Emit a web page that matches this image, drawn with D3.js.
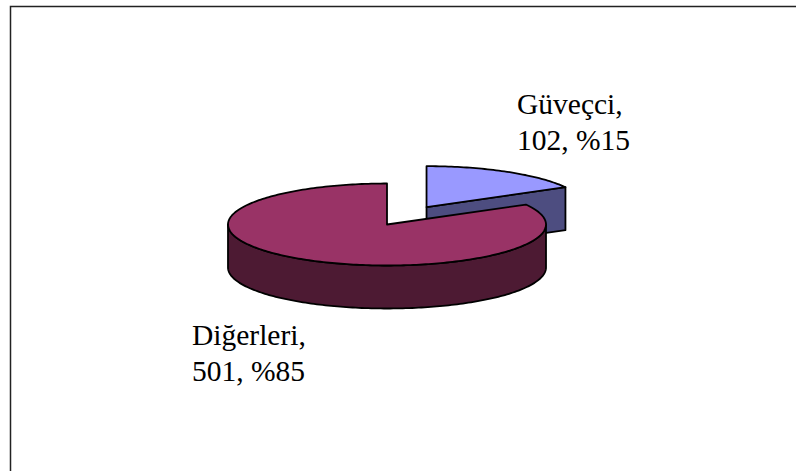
<!DOCTYPE html>
<html>
<head>
<meta charset="utf-8">
<script src="https://cdn.jsdelivr.net/npm/d3@7"></script>
<style>
  body { margin: 0; background: #fff; }
  svg text { font-family: "Liberation Serif", "Times New Roman", serif; font-size: 29.5px; fill: #000; }
</style>
</head>
<body>
<svg width="796" height="471"></svg>
<script>
// chart data
const categories = ["Güveçci", "Diğerleri"];
const values = [102, 501];
const percentLabels = ["%15", "%85"];
const topColors = ["#9999ff", "#993366"];
const sideColors = ["#4d4d80", "#4d1a33"];

const svg = d3.select("svg");

// frame (only top & left edges fall inside the window)
svg.append("rect")
    .attr("x", 10.5)
    .attr("y", 6.5)
    .attr("width", 800)
    .attr("height", 480)
    .attr("fill", "none")
    .attr("stroke", "#222")
    .attr("stroke-width", 1.5);

// 3d pie geometry
const cx = 387, cy = 224.5;
const rx = 159, ry = 41;
const depth = 43;
const explode = 78;

const pie = d3.pie().sort(null).value(d => d.value);
const arcs = pie(categories.map((c, i) => ({ name: c, value: values[i], i: i })));

// angle: 0 at 12 o'clock, clockwise
function pt(ox, oy, a, dz) {
    return [ox + rx * Math.sin(a), oy - ry * Math.cos(a) + (dz || 0)];
}

function arcPoints(ox, oy, a0, a1, dz) {
    const n = Math.max(2, Math.ceil(Math.abs(a1 - a0) / 0.02));
    return d3.range(n + 1).map(k => pt(ox, oy, a0 + (a1 - a0) * k / n, dz));
}

const line = d3.line();

// offset for exploded slice (first slice only)
arcs.forEach(d => {
    const mid = (d.startAngle + d.endAngle) / 2;
    const e = d.data.i === 0 ? explode : 0;
    d.ox = cx + e * Math.sin(mid);
    d.oy = cy - e * Math.cos(mid) * (ry / rx);
});

function drawSlice(d) {
    const g = svg.append("g");
    const i = d.data.i;

    // radial cut wall at end angle, visible when facing the viewer
    if (d.endAngle > 0 && d.endAngle < Math.PI) {
        const p = pt(d.ox, d.oy, d.endAngle);
        const wall = [[d.ox, d.oy], p, [p[0], p[1] + depth], [d.ox, d.oy + depth]];
        g.append("path")
            .attr("d", line(wall) + "Z")
            .attr("fill", sideColors[i])
            .attr("stroke", "#000")
            .attr("stroke-width", 1.8)
            .attr("stroke-linejoin", "round");
    }

    // outer wall, front half only
    const a0 = Math.max(d.startAngle, Math.PI / 2);
    const a1 = Math.min(d.endAngle, Math.PI * 1.5);
    if (a1 > a0) {
        const pts = arcPoints(d.ox, d.oy, a0, a1, 0)
            .concat(arcPoints(d.ox, d.oy, a1, a0, depth));
        g.append("path")
            .attr("d", line(pts) + "Z")
            .attr("fill", sideColors[i])
            .attr("stroke", "#000")
            .attr("stroke-width", 1.8)
            .attr("stroke-linejoin", "round");
    }

    // top face
    const top = [[d.ox, d.oy]].concat(arcPoints(d.ox, d.oy, d.startAngle, d.endAngle, 0));
    g.append("path")
        .attr("d", line(top) + "Z")
        .attr("fill", topColors[i])
        .attr("stroke", "#000")
        .attr("stroke-width", 1.8)
        .attr("stroke-linejoin", "round");
}

// back slice first
drawSlice(arcs[0]);
drawSlice(arcs[1]);

// data labels
const labelPos = [[517, 114], [192, 345]];
arcs.forEach(d => {
    const i = d.data.i;
    const t = svg.append("text")
        .attr("x", labelPos[i][0])
        .attr("y", labelPos[i][1]);
    t.append("tspan").text(categories[i] + ",");
    t.append("tspan")
        .attr("x", labelPos[i][0])
        .attr("dy", 36)
        .text(values[i] + ", " + percentLabels[i]);
});
</script>
</body>
</html>
